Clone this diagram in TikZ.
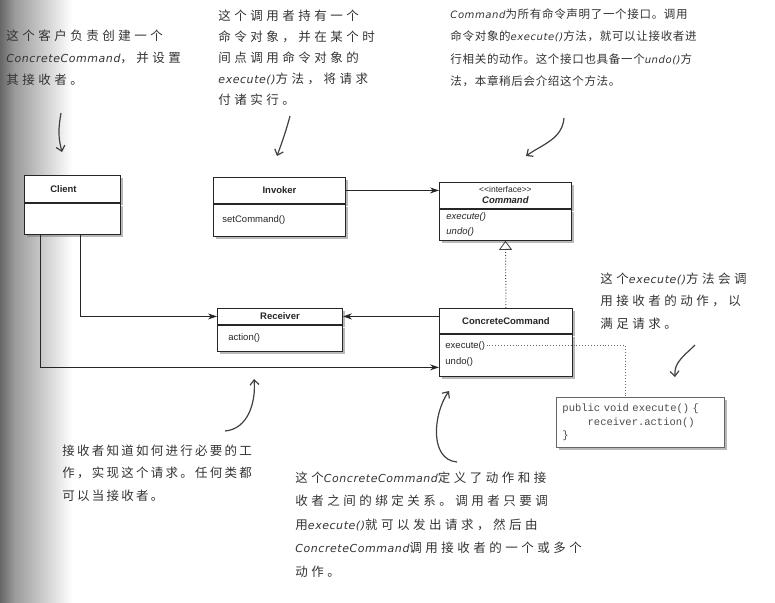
\documentclass[tikz,border=0pt]{standalone}
\usepackage{fontspec}
\setmainfont{Liberation Sans}
\setmonofont{Liberation Mono}
\newfontfamily\handA[LetterSpace=28]{Noto Sans CJK SC}
\newfontfamily\handB[LetterSpace=6]{Noto Sans CJK SC}
\newfontfamily\handC[LetterSpace=18]{Noto Sans CJK SC}
\newfontfamily\latnfont[Scale=0.88,LetterSpace=5,ItalicFont={DejaVu Sans Oblique}]{DejaVu Sans}
\newcommand\latn[1]{{\latnfont\itshape #1}}
\usetikzlibrary{
    arrows.meta,
    shadows,
    calc,
    positioning
}
\tikzset{
  every path/.style={
    line width=0.9pt
  },
  clsbox/.style={
    draw=black!85,
    fill=white,
    inner sep=0pt,
    anchor=north west,
    drop shadow={shadow xshift=3pt,shadow yshift=-3pt,fill=black!55,opacity=.5}
  },
  clshead/.style={
    clsbox,
    text=black!85,
    font=\bfseries\fontsize{9.5}{11}\selectfont
  },
  clsbody/.style={
    clsbox
  },
  member/.style={
    inner sep=1pt,
    anchor=west,
    text=black!85,
    font=\fontsize{9.5}{11}\selectfont
  },
  note/.style={
    anchor=north west,
    inner sep=0pt,
    align=left,
    text=black!80
  },
  assoc/.style={
    draw=black!85,
    line width=1pt,
    -{Stealth[length=9pt,width=6pt]}
  },
  realize/.style={
    draw=black!75,
    dotted,
    line width=1pt,
    -{Triangle[open,length=9pt,width=13pt,fill=white,line width=0.8pt]}
  },
  hand arrow/.style={
    draw=black!75,
    line width=1.2pt,
    -{Straight Barb[length=5pt,width=9pt]}
  }
}

\begin{document}
\begin{tikzpicture}[x=1pt,y=-1pt]

    % 画布
    \useasboundingbox (0,0) rectangle (775,602);
    \fill[left color=black!60, right color=black!40] (0,0) rectangle (14,602);
    \fill[left color=black!40, right color=white] (14,0) rectangle (72,602);

    % 类框
    \node[clshead, minimum width=96pt, minimum height=27pt] (clienth) at (24,175) {Client\hspace*{18pt}};
    \node[clsbody, minimum width=96pt, minimum height=31pt, below=0pt of clienth] (clientb) {};

    \node[clshead, minimum width=132pt, minimum height=26pt] (invokerh) at (213,177) {Invoker};
    \node[clsbody, minimum width=132pt, minimum height=32pt, below=0pt of invokerh] (invokerb) {};
    \node[member, right=8pt of invokerb.west] (setcmd) {setCommand()};

    \node[clshead, minimum width=132pt, minimum height=26pt, align=center] (commandh) at (439,182)
        {{\mdseries\fontsize{8.5}{10}\selectfont {<}{<}interface{>}{>}}\\\textit{Command}};
    \node[clsbody, minimum width=132pt, minimum height=31pt, below=0pt of commandh] (commandb) {};
    \node[member, font=\itshape\fontsize{9.5}{11}\selectfont] (cmdexec) at ([xshift=6pt,yshift=-8pt]commandb.north west) {execute()};
    \node[member, font=\itshape\fontsize{9.5}{11}\selectfont] (cmdundo) at ([yshift=-15pt]cmdexec.west) {undo()};

    \node[clshead, minimum width=125pt, minimum height=16pt] (receiverh) at (217,308) {Receiver};
    \node[clsbody, minimum width=125pt, minimum height=26pt, below=0pt of receiverh] (receiverb) {};
    \node[member, right=10pt of receiverb.west] (action) {action()};

    \node[clshead, minimum width=133pt, minimum height=25pt] (cch) at (439,308) {ConcreteCommand};
    \node[clsbody, minimum width=133pt, minimum height=42pt, below=0pt of cch] (ccb) {};
    \node[member] (ccexec) at ([xshift=5pt,yshift=-12pt]ccb.north west) {execute()};
    \node[member] (ccundo) at ([yshift=-16pt]ccexec.west) {undo()};

    % 代码框
    \node[clsbox, draw=black!60, minimum width=168pt, minimum height=50pt, text width=156pt,
          inner xsep=6pt, align=left, text=black!70, font=\ttfamily\fontsize{10.5}{13.5}\selectfont]
        (code) at (556,397)
        {public void execute() \{\\\phantom{xxxx}receiver.action()\\\}};

    % 连线
    \coordinate (clA) at ($(clientb.south west)+(56,0)$);
    \coordinate (clB) at ($(clientb.south west)+(16,0)$);
    \draw[assoc] (invokerh.east) -- (invokerh.east -| commandh.west);
    \draw[assoc] (receiverh.east -| cch.west) -- (receiverh.east);
    \draw[assoc] (clA) |- (receiverh.west);
    \draw[assoc] (clB) |- ([yshift=-12pt]ccb.west);
    \draw[realize] (cch.north) -- (commandb.south);
    \draw[black!60, dotted, line width=1pt] (ccexec.east) -| ([xshift=-15pt]code.north);

    % 注释
    \node[note, font=\handA\fontsize{12.5}{22}\selectfont] (noteclient) at (6,29)
        {这个客户负责创建一个\\\latn{ConcreteCommand}，并设置\\其接收者。};
    \node[note, font=\handA\fontsize{12.5}{21.2}\selectfont] (noteinvoker) at (218,9)
        {这个调用者持有一个\\命令对象，并在某个时\\间点调用命令对象的\\\latn{execute()}方法，将请求\\付诸实行。};
    \node[note, font=\handB\fontsize{11.5}{22.5}\selectfont] (notecommand) at (450,8)
        {\latn{Command}为所有命令声明了一个接口。调用\\命令对象的\latn{execute()}方法，就可以让接收者进\\行相关的动作。这个接口也具备一个\latn{undo()}方\\法，本章稍后会介绍这个方法。};
    \node[note, font=\handA\fontsize{12.5}{22.5}\selectfont] (noteexec) at (600,272)
        {这个\latn{execute()}方法会调\\用接收者的动作，以\\满足请求。};
    \node[note, font=\handC\fontsize{12.5}{22.5}\selectfont] (notereceiver) at (62,444)
        {接收者知道如何进行必要的工\\作，实现这个请求。任何类都\\可以当接收者。};
    \node[note, font=\handA\fontsize{12.5}{23.5}\selectfont] (noteconcrete) at (295,471)
        {这个\latn{ConcreteCommand}定义了动作和接\\收者之间的绑定关系。调用者只要调\\用\latn{execute()}就可以发出请求，然后由\\\latn{ConcreteCommand}调用接收者的一个或多个\\动作。};

    % 手绘箭头
    \draw[hand arrow] (61,113) to[out=-100,in=105] (62,152);
    \draw[hand arrow] (290,116) to[out=-105,in=70] (277,156);
    \draw[hand arrow] (564,118) to[out=-95,in=35] (526,156);
    \draw[hand arrow] (695,345) to[out=-135,in=95] (675,377);
    \draw[hand arrow] (225,431) to[out=5,in=-85] (254,379);
    \draw[hand arrow] (457,462) to[out=175,in=-125] (449,391);

\end{tikzpicture}
\end{document}
